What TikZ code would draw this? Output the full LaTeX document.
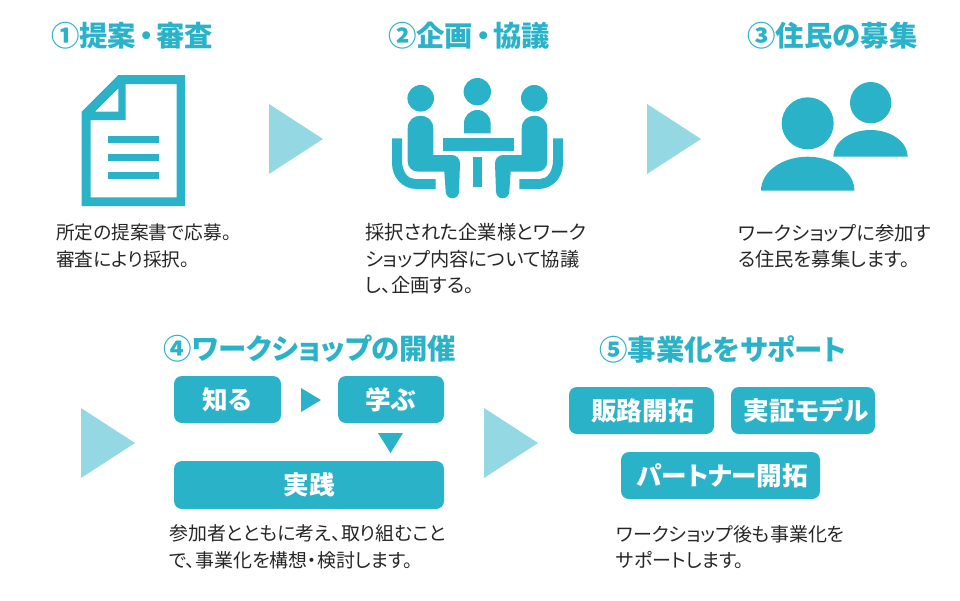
\documentclass[tikz,border=0pt]{standalone}
\usepackage{fontspec}
\setmainfont[RawFeature=+palt]{Noto Sans CJK JP}
\definecolor{maincol}{HTML}{2AB2C9}
\definecolor{lightcol}{HTML}{94D8E4}
\begin{document}
\begin{tikzpicture}[x=0.75pt, y=-0.75pt, line join=round,
	titlenode/.style={font=\fontsize{21.3pt}{24pt}\selectfont\bfseries, text=maincol, inner sep=0pt},
	bodynode/.style={font=\fontsize{#1}{19.9pt}\selectfont, text=black!85, inner sep=0pt, anchor=west, align=left},
	tagbox/.style={fill=maincol, rounded corners=6pt, text=white, font=\fontsize{19.2pt}{20pt}\selectfont\bfseries, inner sep=0pt},
	bigarrow/.style={fill=lightcol},
	smallarrow/.style={fill=maincol},
	iconfill/.style={fill=maincol}]
	\useasboundingbox (0,0) rectangle (960,600);
	% titles
	\node[titlenode] (title1) at (132,36) {①提案\kern.1em・\kern.1em審査};
	\node[titlenode] (title2) at (469,36) {②企画\kern.1em・\kern.1em協議};
	\node[titlenode] (title3) at (832.5,36) {③住民の募集};
	\node[titlenode] (title4) at (310,349) {④ワークショップの開催};
	\node[titlenode] (title5) at (723,349) {⑤事業化をサポート};
	% document icon
	\path[iconfill, even odd rule] (118.3,75)--(185,75)--(185,206)--(81.7,206)--(81.7,111.7)--cycle
		(90.7,120)--(125.7,120)--(125.7,84)--(176.7,84)--(176.7,197.3)--(90.7,197.3)--cycle
		(95,111.7)--(118.3,111.7)--(118.3,88.3)--cycle;
	\foreach \ya/\yb in {136/142.7, 154/161, 172/179}
		\fill[maincol] (108.3,\ya) rectangle (159,\yb);
	% meeting icon
	\fill[maincol] (477.3,91.7) circle[radius=13.7];
	\path[iconfill] (464,133.3)--(464,123.3) arc[start angle=180, end angle=360, radius=13.3]--(490.6,133.3)--cycle;
	\fill[maincol] (443.3,138.3) rectangle (514,151);
	\fill[maincol] (473.3,157.3) rectangle (481.7,186.7);
	\foreach \s/\t in {1/0, -1/955}{
		\begin{scope}[xshift=\t*0.75pt, x=\s*0.75pt]
			\fill[maincol] (420.7,98.3) circle[radius=13.3];
			\path[iconfill] (407.7,161.7)--(407.7,128.5) .. controls (407.7,111.5) and (433.3,111.5) .. (433.3,128.5)
				--(433.3,155)--(451.7,155) .. controls (456.5,155) and (460,158.5) .. (460,163.3)
				--(459,191.7) .. controls (458.5,200.5) and (446.2,200.5) .. (445.7,191.7)
				--(444.3,171.7)--(418.3,171.7) .. controls (412,171.7) and (407.7,167) .. (407.7,161.7)--cycle;
			\path[iconfill] (392,138.3)--(402,138.3)--(402,160) .. controls (402,172) and (408,179) .. (415,179)
				--(435.7,179)--(435.7,189)--(416.7,189) .. controls (402,189) and (392,177) .. (392,163.3)--cycle;
		\end{scope}
	}
	% people icon
	\fill[maincol] (807.7,123.3) circle[radius=26];
	\path[iconfill] (761,190.7) arc[start angle=180, end angle=0, x radius=46.7, y radius=-34]--cycle;
	\fill[maincol] (870.7,102.7) circle[radius=20.7];
	\path[iconfill] (833.3,156.7) arc[start angle=180, end angle=0, x radius=37.2, y radius=-26.7]--cycle;
	% big arrows
	\foreach \ax/\ay in {269/104, 647/104, 81/408, 484/408}
		\path[bigarrow] (\ax,\ay)--(\ax+54,\ay+35)--(\ax,\ay+70)--cycle;
	% body text
	\node[bodynode=14pt] (text1) at (56,246) {所定の提案書で応募。\\審査により採択。};
	\node[bodynode=14.45pt] (text2) at (365,259) {採択された企業様とワーク\\ショップ内容について協議\\し、企画する。};
	\node[bodynode=14.45pt] (text3) at (738,246) {ワークショップに参加す\\る住民を募集します。};
	\node[bodynode=14.2pt] (text4) at (169,547) {参加者とともに考え、取り組むこと\\で、事業化を構想・検討します。};
	\node[bodynode=14.25pt] (text5) at (616,547) {ワークショップ後も事業化を\\サポートします。};
	% step 4 boxes
	\node[tagbox, minimum width=80.25pt, minimum height=35.25pt] (know) at (227.5,399.5) {知る};
	\node[tagbox, minimum width=79.5pt, minimum height=35.25pt] (learn) at (391,399.5) {学ぶ};
	\node[tagbox, minimum width=202.5pt, minimum height=36pt] (practice) at (309,485) {実践};
	\path[smallarrow] (301,388)--(321,400)--(301,412)--cycle;
	\path[smallarrow] (378,433)--(403,433)--(390.5,453)--cycle;
	% step 5 boxes
	\node[tagbox, minimum width=108.75pt, minimum height=35.25pt] (sales) at (641.5,410.5) {\kern1.5pt販路開拓};
	\node[tagbox, minimum width=108pt, minimum height=35.25pt] (model) at (803,410.5) {\kern4.5pt実証モデル};
	\node[tagbox, minimum width=149.25pt, minimum height=35.25pt] (partner) at (720.5,475.5) {\kern3pt パートナー開拓};
\end{tikzpicture}
\end{document}
